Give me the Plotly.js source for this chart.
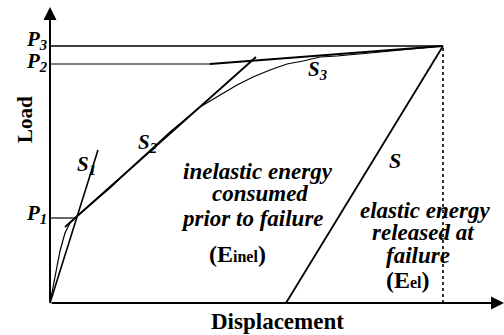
<!DOCTYPE html>
<html>
<head>
<meta charset="utf-8">
<script src="https://cdn.plot.ly/plotly-3.0.1.min.js"></script>
<style>
  body { margin: 0; background: #fff; }
  #chart { width: 504px; height: 335px; }
</style>
</head>
<body>
<div id="chart"></div>
<script>
// load-displacement curve (schematic units)
var curveX = [0, 3, 6, 10, 15, 20, 26, 33, 45, 60, 80, 100, 120, 150, 170, 187, 203, 220, 237, 253, 270, 287, 320, 360, 393];
var curveY = [0, 15, 32, 52, 70, 80, 86, 92, 102, 115, 134, 152, 171, 196, 208, 218, 226, 233, 239, 242, 246, 247, 250, 254, 257];

// tangent / secant lines
var s1X = [0, 48];     var s1Y = [0, 153];
var s2X = [15, 206];   var s2Y = [76, 246];
var s3X = [160, 393];  var s3Y = [239, 257];
var sX  = [236, 393];  var sY  = [0, 257];

// load levels
var P1 = 85, P2 = 239, P3 = 257;
var p1End = 27, p2End = 160, failX = 393;

var xMax = 454, yMax = 296;

function line(x, y, w, dash) {
  return {x: x, y: y, mode: 'lines', cliponaxis: false, hoverinfo: 'skip',
          line: {color: '#000', width: w, dash: dash || 'solid'}};
}

var data = [
  line([0, p1End], [P1, P1], 1.2),
  line([0, p2End], [P2, P2], 1.2),
  line([0, failX], [P3, P3], 1.4),
  line([failX, failX], [0, P3], 1.6, 'dot'),
  line(curveX, curveY, 1.2),
  line(s1X, s1Y, 1.6),
  line(s2X, s2Y, 1.8),
  line(s3X, s3Y, 1.8),
  line(sX, sY, 1.8)
];

var serif = 'Liberation Serif, Times New Roman, serif';
function lab(x, y, txt, size, xanchor) {
  return {x: x, y: y, text: txt, showarrow: false, xanchor: xanchor || 'center', yanchor: 'middle',
          font: {family: serif, size: size, color: '#000'}};
}
function arrow(x, y, ax, ay) {
  return {x: x, y: y, ax: ax, ay: ay, axref: 'x', ayref: 'y', text: '', showarrow: true,
          arrowhead: 2, arrowsize: 1.3, arrowwidth: 2, arrowcolor: '#000', standoff: 0};
}

var annotations = [
  arrow(xMax, 0, 0, 0),
  arrow(0, yMax, 0, 0),
  lab(-1, 263, '<b><i>P<sub>3</sub></i></b>', 21, 'right'),
  lab(-1, 241, '<b><i>P<sub>2</sub></i></b>', 21, 'right'),
  lab(-1, 89, '<b><i>P<sub>1</sub></i></b>', 21, 'right'),
  {x: -25, y: 183, text: '<b>Load</b>', showarrow: false, textangle: -90,
   font: {family: serif, size: 21, color: '#000'}},
  {x: 227, y: -18, text: '<b>Displacement</b>', showarrow: false, yanchor: 'middle',
   font: {family: serif, size: 23, color: '#000'}},
  lab(36, 138, '<b><i>S<sub>1</sub></i></b>', 21),
  lab(97, 160, '<b><i>S<sub>2</sub></i></b>', 21),
  lab(267, 233, '<b><i>S<sub>3</sub></i></b>', 21),
  lab(345, 143, '<b><i>S</i></b>', 22),
  lab(208, 132, '<b><i>inelastic energy</i></b>', 23),
  lab(210, 110, '<b><i>consumed</i></b>', 23),
  lab(202, 85, '<b><i>prior to failure</i></b>', 23),
  lab(187, 49, '<b>(E<span style="font-size:16px">inel</span>)</b>', 24),
  lab(375, 93, '<b><i>elastic energy</i></b>', 23),
  lab(373, 71, '<b><i>released at</i></b>', 23),
  lab(368, 48, '<b><i>failure</i></b>', 23),
  lab(358, 23, '<b>(E<span style="font-size:16px">el</span>)</b>', 24)
];

var layout = {
  width: 504, height: 335,
  margin: {l: 0, r: 0, t: 0, b: 0},
  paper_bgcolor: '#fff', plot_bgcolor: '#fff',
  showlegend: false,
  xaxis: {range: [-50, xMax], visible: false, fixedrange: true},
  yaxis: {range: [-32, 303], visible: false, fixedrange: true},
  annotations: annotations
};

Plotly.newPlot('chart', data, layout, {displayModeBar: false, staticPlot: true});
</script>
</body>
</html>
